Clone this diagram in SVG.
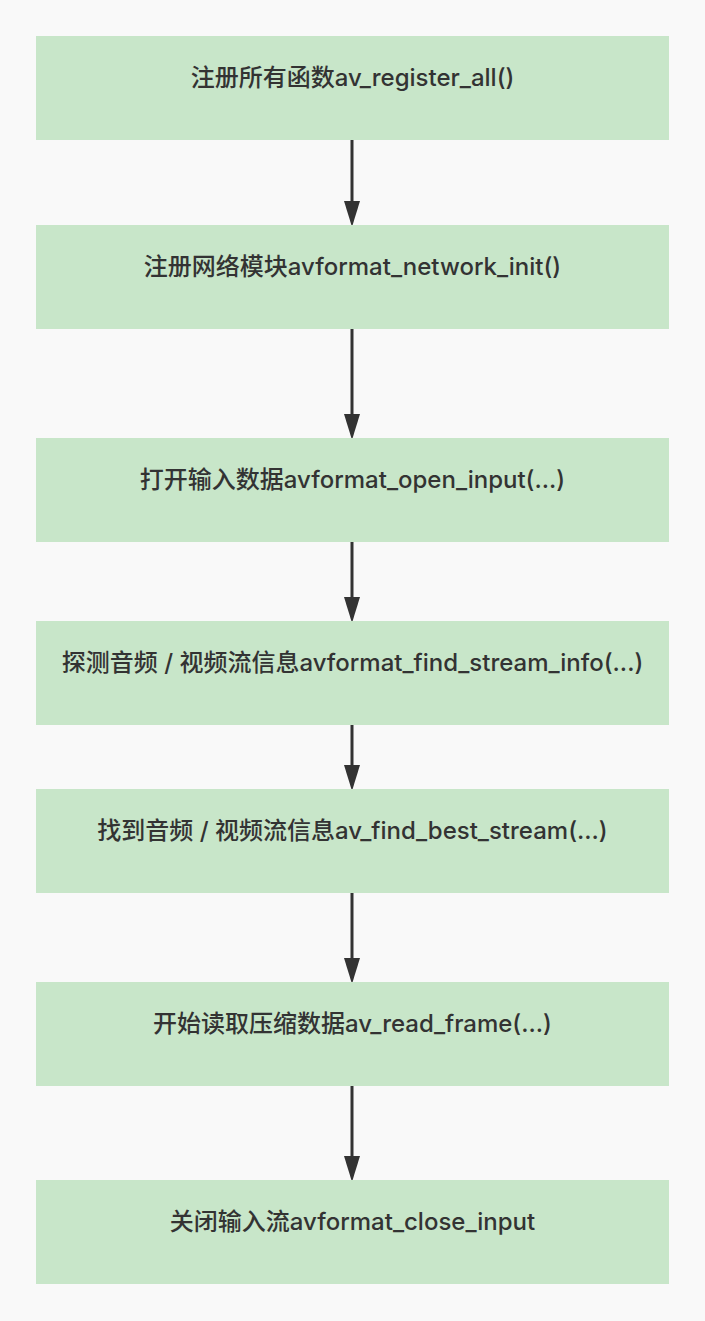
<svg xmlns="http://www.w3.org/2000/svg" width="705" height="1321" viewBox="0 0 705 1321">
<defs>
<style>
.box{fill:#c8e6c9;}
.lbl{font-family:"Inter","Noto Sans CJK SC",sans-serif;font-size:24px;font-weight:500;fill:#333333;text-anchor:middle;}
.edge{stroke:#333333;stroke-width:3;fill:none;marker-end:url(#arr);}
</style>
<marker id="arr" markerUnits="userSpaceOnUse" markerWidth="26" markerHeight="16" refX="14" refY="8" orient="auto">
<path d="M0,0 L26,8 L0,16 z" fill="#333333"/>
</marker>
</defs>
<rect x="0" y="0" width="705" height="1321" fill="#f9f9f9"/>
<g id="edges">
<line class="edge" x1="352" y1="140" x2="352" y2="215"/>
<line class="edge" x1="352" y1="329" x2="352" y2="428"/>
<line class="edge" x1="352" y1="542" x2="352" y2="611"/>
<line class="edge" x1="352" y1="725" x2="352" y2="779"/>
<line class="edge" x1="352" y1="893" x2="352" y2="972"/>
<line class="edge" x1="352" y1="1086" x2="352" y2="1170"/>
</g>
<g id="n1"><rect class="box" x="36" y="36" width="633" height="104"/><text class="lbl" x="352.5" y="86">注册所有函数av_register_all()</text></g>
<g id="n2"><rect class="box" x="36" y="225" width="633" height="104"/><text class="lbl" x="352.5" y="275">注册网络模块avformat_network_init()</text></g>
<g id="n3"><rect class="box" x="36" y="438" width="633" height="104"/><text class="lbl" x="352.5" y="488">打开输入数据avformat_open_input(...)</text></g>
<g id="n4"><rect class="box" x="36" y="621" width="633" height="104"/><text class="lbl" x="352.5" y="671">探测音频 / 视频流信息avformat_find_stream_info(...)</text></g>
<g id="n5"><rect class="box" x="36" y="789" width="633" height="104"/><text class="lbl" x="352.5" y="839">找到音频 / 视频流信息av_find_best_stream(...)</text></g>
<g id="n6"><rect class="box" x="36" y="982" width="633" height="104"/><text class="lbl" x="352.5" y="1032">开始读取压缩数据av_read_frame(...)</text></g>
<g id="n7"><rect class="box" x="36" y="1180" width="633" height="104"/><text class="lbl" x="352.5" y="1230">关闭输入流avformat_close_input</text></g>
</svg>
